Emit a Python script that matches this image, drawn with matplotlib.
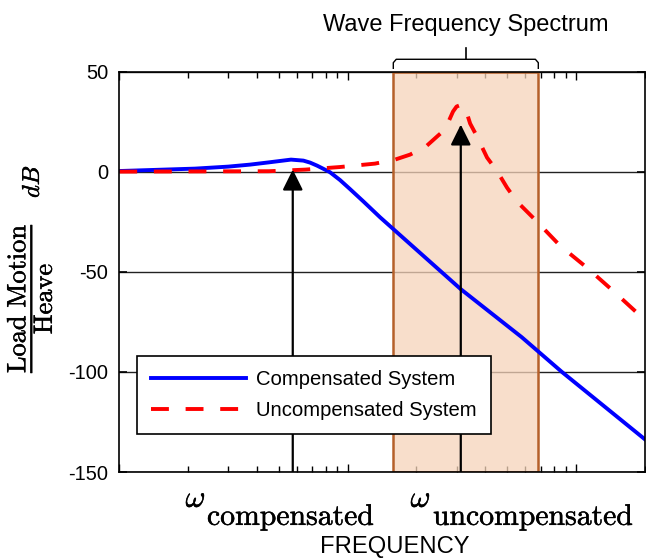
import numpy as np
import matplotlib
matplotlib.use('Agg')
import matplotlib.pyplot as plt
import matplotlib.transforms as mtransforms
import matplotlib.patheffects as pe
from matplotlib.patches import Rectangle, FancyArrowPatch

plt.rcParams['font.family'] = ['Liberation Sans', 'DejaVu Sans']
plt.rcParams['mathtext.fontset'] = 'cm'
plt.rcParams['axes.unicode_minus'] = False

# values (frequency, dB)
freq_comp = [0.1, 0.2146, 0.3, 0.3737, 0.45, 0.565, 0.64, 0.685, 0.7345, 0.78,
             0.837, 0.926, 1.024, 1.175, 1.387, 3.13, 5.79, 8.67, 20.0]
mag_comp = [0.3, 1.5, 2.5, 3.5, 4.6, 6.0, 5.5, 4.5, 3.0, 1.5,
            -0.3, -4.2, -8.7, -15.0, -22.8, -58.7, -82.7, -100.0, -133.6]

freq_uncomp = [0.1, 0.452, 0.651, 0.926, 1.318, 1.613, 1.877, 2.2, 2.49, 2.67,
               2.894, 3.0, 3.16, 3.3, 3.44, 3.65, 4.08, 4.51, 4.99, 5.52,
               6.62, 8.52, 11.18, 14.69, 20.0]
mag_uncomp = [0.0, 0.2, 1.0, 2.3, 4.0, 6.0, 8.5, 12.5, 18.0, 21.0,
              30.0, 32.5, 33.5, 30.5, 24.0, 18.5, 7.0, 0.3, -8.0, -15.0,
              -24.0, -37.0, -48.0, -60.0, -74.0]

series_labels = ['Compensated System', 'Uncompensated System']

# wave spectrum band and resonance arrows
band_lo, band_hi = 1.585, 6.84
w_comp, w_comp_tip = 0.575, 1.0
w_uncomp, w_uncomp_tip = 3.13, 23.5

yticks = [-150, -100, -50, 0, 50]

fig = plt.figure(figsize=(6.46, 5.6), dpi=100)
ax = fig.add_axes([119.3 / 646, 1 - 472 / 560, 525.4 / 646, 400.5 / 560])

ax.set_xscale('log')
ax.set_xlim(0.1, 20)
ax.set_ylim(-150, 50)
ax.set_yticks(yticks)
ax.set_yticklabels([str(v) for v in yticks])
ax.xaxis.set_major_formatter(matplotlib.ticker.NullFormatter())
ax.xaxis.set_minor_formatter(matplotlib.ticker.NullFormatter())
ax.tick_params(axis='both', which='both', direction='in', top=True, right=True)
ax.tick_params(axis='y', which='major', length=6, width=1.2, labelsize=14.4, pad=8)
ax.tick_params(axis='x', which='major', length=6, width=1.0)
ax.tick_params(axis='x', which='minor', length=4, width=1.0)
for s in ax.spines.values():
    s.set_linewidth(1.2)
    s.set_zorder(6)

ax.yaxis.grid(True, color='#222222', linewidth=1.0, zorder=0)
ax.set_axisbelow(True)

# band
band = Rectangle((band_lo, -150), band_hi - band_lo, 200,
                 facecolor=(0.964, 0.83, 0.73, 0.75), edgecolor='#b5602a',
                 linewidth=1.8, zorder=1)
ax.add_patch(band)

ax.plot(freq_comp, mag_comp, color='#0000ff', linewidth=2.8, zorder=3,
        label=series_labels[0])
ax.plot(freq_uncomp, mag_uncomp, color='#ff0000', linewidth=2.8, zorder=3,
        dashes=(4.6, 4.3), dash_capstyle='butt', label=series_labels[1])

for w, tip in [(w_comp, w_comp_tip), (w_uncomp, w_uncomp_tip)]:
    arr = FancyArrowPatch((w, -150), (w, tip),
                          arrowstyle='-|>,head_length=1.25,head_width=0.62',
                          mutation_scale=10, color='black', linewidth=1.6,
                          shrinkA=0, shrinkB=0, zorder=4)
    ax.add_patch(arr)

leg = ax.legend(loc='upper left', bbox_to_anchor=(0.033, 0.29), fontsize=14.6,
                frameon=True, fancybox=False, edgecolor='black', framealpha=1,
                handlelength=4.7, handletextpad=0.5, borderpad=0.7,
                labelspacing=0.58, borderaxespad=0)
leg.get_frame().set_linewidth(1.2)
leg.set_zorder(10)

# bracket over the band
trans = mtransforms.blended_transform_factory(ax.transData, ax.transAxes)
lo_in = band_lo * 1.03
hi_in = band_hi / 1.03
mid = np.sqrt(band_lo * band_hi)
ax.plot([band_lo, band_lo, lo_in, hi_in, band_hi, band_hi],
        [1.008, 1.022, 1.0305, 1.0305, 1.022, 1.008],
        color='black', linewidth=1.0, transform=trans, clip_on=False)
ax.plot([mid, mid], [1.0305, 1.058], color='black', linewidth=1.2,
        transform=trans, clip_on=False)
ax.text(mid, 1.116, 'Wave Frequency Spectrum', transform=trans, ha='center',
        va='center', fontsize=17)

# axis annotations: omega raised, subscript word on the baseline
heavy = [pe.withStroke(linewidth=0.35, foreground='black')]
for x0, x1, word in [(206, 207, 'compensated'), (431, 433, 'uncompensated')]:
    fig.text(x0 / 646, 1 - 507 / 560, r'$\omega$', fontsize=22,
             ha='right', va='baseline', path_effects=heavy)
    fig.text(x1 / 646, 1 - 525 / 560, r'$\mathrm{%s}$' % word,
             fontsize=21.4, ha='left', va='baseline', path_effects=heavy)
fig.text(395 / 646, 1 - 547 / 560, 'FREQUENCY', fontsize=17.1,
         ha='center', va='center')
fig.text(29 / 646, 1 - 298 / 560, r'$\dfrac{\mathrm{Load\ Motion}}{\mathrm{Heave}}$',
         fontsize=19, rotation=90, ha='center', va='center', path_effects=heavy)
fig.text(33 / 646, 1 - 181.5 / 560, r'$dB$', fontsize=17.5, rotation=90,
         ha='center', va='center', path_effects=heavy)

fig.savefig('out.png', dpi=100)
